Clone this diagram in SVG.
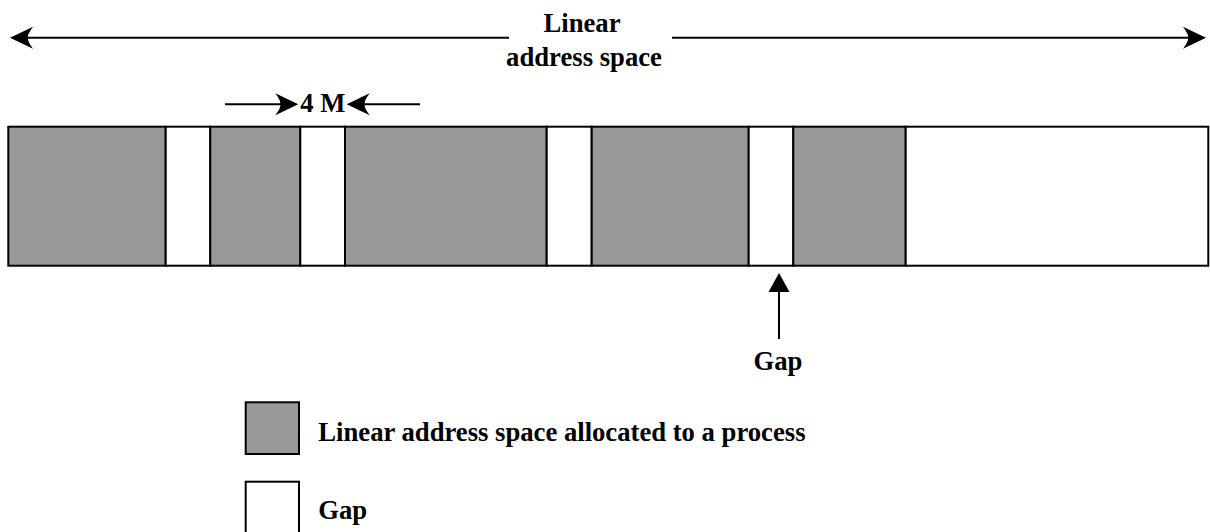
<svg xmlns="http://www.w3.org/2000/svg" width="1210" height="532" viewBox="0 0 1210 532">
<style>
  .t { font-family: "Liberation Serif", "Times New Roman", serif; font-weight: bold; font-size: 26.67px; fill: #000; }
  .alloc { fill: #999999; stroke: #000; stroke-width: 2; }
  .gap { fill: #ffffff; stroke: #000; stroke-width: 2; }
  .ln { stroke: #000; stroke-width: 2; fill: none; }
  .ah { fill: #000; stroke: none; }
</style>
<defs>
  <path id="stealth" d="M0,0 L-23,-11 Q-17,-3 -18,0 Q-17,3 -23,11 Z"/>
</defs>
<rect width="1210" height="532" fill="#fff"/>

<g id="bar">
  <rect class="alloc" x="8.3" y="126.7" width="157.4" height="139"/>
  <rect class="gap" x="165.7" y="126.7" width="44.6" height="139"/>
  <rect class="alloc" x="210.3" y="126.7" width="90" height="139"/>
  <rect class="gap" x="300.3" y="126.7" width="44.7" height="139"/>
  <rect class="alloc" x="345" y="126.7" width="201.7" height="139"/>
  <rect class="gap" x="546.7" y="126.7" width="45" height="139"/>
  <rect class="alloc" x="591.7" y="126.7" width="157" height="139"/>
  <rect class="gap" x="748.7" y="126.7" width="44.6" height="139"/>
  <rect class="alloc" x="793.3" y="126.7" width="112.4" height="139"/>
  <rect class="gap" x="905.7" y="126.7" width="302.6" height="139"/>
</g>

<g id="title">
  <text class="t" x="582" y="31.7" text-anchor="middle">Linear</text>
  <text class="t" x="584" y="65.7" text-anchor="middle">address space</text>
</g>

<g id="label-4m">
  <text class="t" x="322.8" y="112" text-anchor="middle">4 M</text>
</g>

<g id="label-gap">
  <text class="t" x="778" y="370" text-anchor="middle">Gap</text>
</g>

<g id="legend-alloc">
  <rect class="alloc" x="245.7" y="402.3" width="53.3" height="51.7"/>
  <text class="t" x="318.3" y="440.7">Linear address space allocated to a process</text>
</g>

<g id="legend-gap">
  <rect class="gap" x="245.7" y="481.7" width="53.3" height="53"/>
  <text class="t" x="318.3" y="519">Gap</text>
</g>

<g id="connectors">
  <line class="ln" x1="20" y1="37.7" x2="509" y2="37.7"/>
  <use href="#stealth" class="ah" transform="translate(10,37.7) rotate(180)"/>
  <line class="ln" x1="672" y1="37.7" x2="1196" y2="37.7"/>
  <use href="#stealth" class="ah" transform="translate(1206,37.7)"/>

  <line class="ln" x1="225" y1="104.3" x2="288" y2="104.3"/>
  <use href="#stealth" class="ah" transform="translate(298.3,104.3)"/>
  <line class="ln" x1="357" y1="104.3" x2="420" y2="104.3"/>
  <use href="#stealth" class="ah" transform="translate(346.7,104.3) rotate(180)"/>

  <line class="ln" x1="779" y1="290" x2="779" y2="339"/>
  <path class="ah" d="M779,273 L789.5,292 L768.5,292 Z"/>
</g>
</svg>
